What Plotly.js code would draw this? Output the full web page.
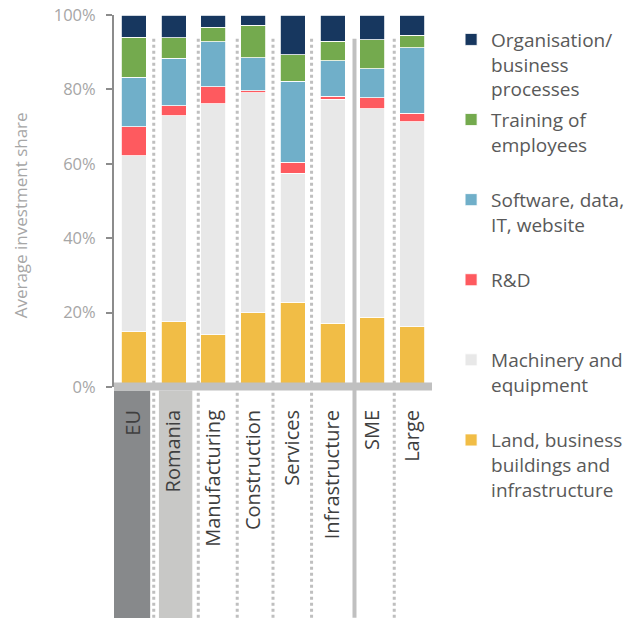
<!DOCTYPE html>
<html>
<head>
<meta charset="utf-8">
<script src="https://cdn.plot.ly/plotly-3.0.1.min.js"></script>
<style>html,body{margin:0;padding:0;background:#fff;}#chart{width:634px;height:618px;}</style>
</head>
<body>
<div id="chart"></div>
<script>
// ---- data (percent shares) ----
const categories = ['EU', 'Romania', 'Manufacturing', 'Construction', 'Services', 'Infrastructure', 'SME', 'Large'];
const landBuildings = [14.8, 17.5, 14.1, 19.9, 22.8, 17.2, 18.8, 16.2];
const machinery     = [47.4, 55.4, 62.0, 59.2, 34.7, 60.2, 56.0, 55.1];
const researchDev   = [7.8, 2.7, 4.6, 0.6, 2.9, 0.8, 2.9, 2.3];
const software      = [13.3, 12.8, 12.1, 8.8, 21.8, 9.5, 7.8, 17.6];
const training      = [10.7, 5.5, 3.9, 8.8, 7.1, 5.3, 7.8, 3.4];
const organisation  = [6.0, 6.1, 3.3, 2.7, 10.7, 7.0, 6.7, 5.4];
const seriesNames = [
  'Land, business<br>buildings and<br>infrastructure',
  'Machinery and<br>equipment<br>\u00a0',
  'R&D<br>\u00a0<br>\u00a0',
  'Software, data,<br>IT, website<br>\u00a0',
  'Training of<br>employees<br>\u00a0',
  'Organisation/<br>business<br>processes'
];
const tickValues = [0, 20, 40, 60, 80, 100];
const tickLabels = ['0%', '20%', '40%', '60%', '80%', '100%'];
const yTitle = 'Average investment share';
// separators between category groups (category units)
const separators = [0.5, 1.62, 2.6, 3.5, 4.47, 5.55, 6.55];
const solidSeparator = 5.55;

const seriesValues = [landBuildings, machinery, researchDev, software, training, organisation];
const seriesColors = ['#f1bd46', '#e8e8e8', '#fe5a5f', '#70afc9', '#74aa4e', '#17375f'];

const traces = seriesValues.map((vals, i) => ({
  type: 'bar',
  x: categories,
  y: vals,
  name: seriesNames[i],
  legendgroup: 'g' + i,
  legendrank: 100 - i,
  marker: {color: seriesColors[i], line: {color: '#ffffff', width: 0.8}},
  width: 0.63,
  hoverinfo: 'skip'
}));

const shapes = [];
// highlighted category boxes below axis (EU dark, Romania light)
shapes.push({type: 'rect', xref: 'x', yref: 'paper', x0: -0.5, x1: 0.41, y0: -0.0095, y1: -0.63,
  fillcolor: '#87898b', line: {width: 0}, layer: 'below'});
shapes.push({type: 'rect', xref: 'x', yref: 'paper', x0: 0.63, x1: 1.47, y0: -0.0095, y1: -0.63,
  fillcolor: '#c8c8c6', line: {width: 0}, layer: 'below'});
separators.forEach(s => {
  const solid = s === solidSeparator;
  shapes.push({type: 'line', xref: 'x', yref: 'paper', x0: s, x1: s, y0: 0.936, y1: -0.62,
    line: {color: solid ? '#c0c0c0' : '#bfbfbf', width: solid ? 4 : 3, dash: solid ? 'solid' : 'dot'},
    layer: 'below'});
});
// thick grey baseline
shapes.push({type: 'rect', xref: 'x', yref: 'paper', ysizemode: 'pixel', yanchor: 0,
  x0: -0.5, x1: 7.5, y0: -3.6, y1: 4.4, fillcolor: '#c0c0c0', line: {width: 0}, layer: 'above'});

const layout = {
  width: 634, height: 618,
  margin: {l: 114, r: 202, t: 15, b: 231, autoexpand: false},
  paper_bgcolor: '#ffffff', plot_bgcolor: 'rgba(0,0,0,0)',
  barmode: 'stack',
  font: {family: '"Open Sans", "Noto Sans", sans-serif', color: '#595959'},
  showlegend: true,
  legend: {
    x: 1.06, xanchor: 'left', y: 0.985, yanchor: 'top',
    traceorder: 'grouped', tracegroupgap: 3,
    valign: 'top', maxheight: 610,
    font: {size: 19, color: '#595959', family: '"Open Sans", "Noto Sans", sans-serif'},
    bgcolor: 'rgba(0,0,0,0)', borderwidth: 0
  },
  xaxis: {
    type: 'category', range: [-0.5, 7.5], showline: false, ticks: '', showgrid: false,
    tickangle: -90, ticklabelstandoff: 18,
    tickfont: {size: 20, color: '#3f3f3f'}, zeroline: false, fixedrange: true
  },
  yaxis: {
    range: [0, 100], tickvals: tickValues, ticktext: tickLabels,
    showline: true, linecolor: '#8c8c8c', linewidth: 2,
    ticks: 'outside', ticklen: 6, tickwidth: 2, tickcolor: '#8c8c8c',
    showgrid: false, zeroline: false, ticklabelstandoff: 7,
    tickfont: {size: 16.5, color: '#a6a6a6'},
    fixedrange: true
  },
  annotations: [{
    text: yTitle, xref: 'paper', yref: 'paper', x: -0.295, y: 0.462,
    xanchor: 'center', yanchor: 'middle', textangle: -90, showarrow: false,
    font: {size: 17, color: '#a6a6a6'}
  }],
  shapes: shapes
};

Plotly.newPlot('chart', traces, layout, {displayModeBar: false, staticPlot: true});
</script>
</body>
</html>
